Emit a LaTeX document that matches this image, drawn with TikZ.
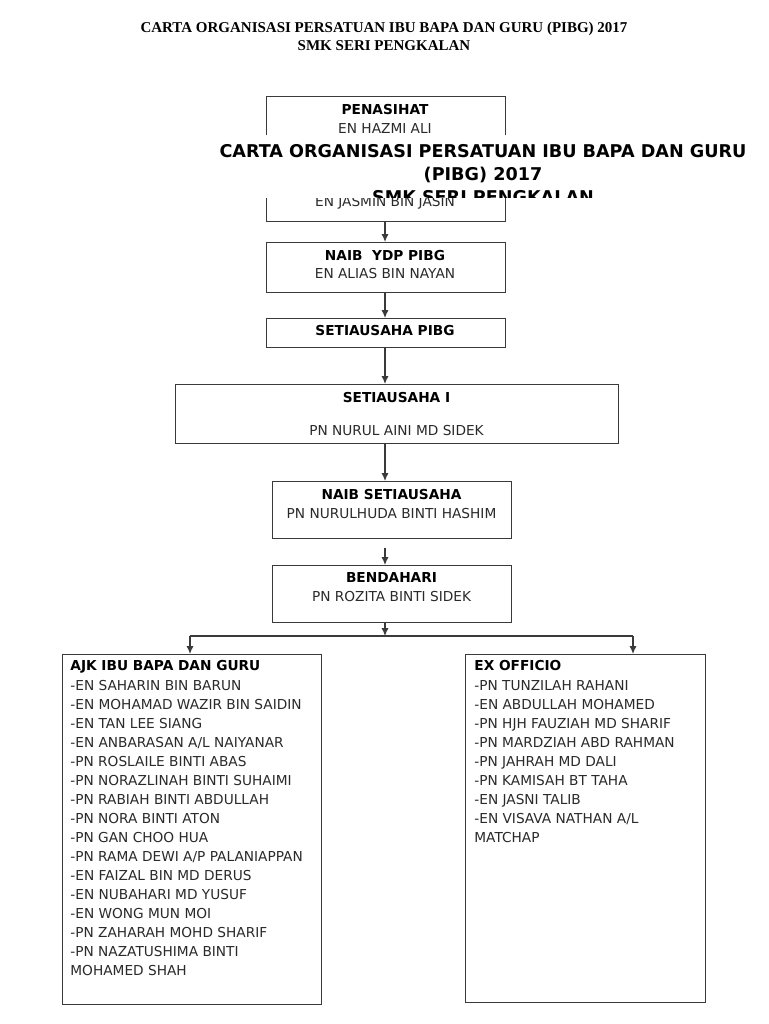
\documentclass[tikz,border=0pt]{standalone}
\usepackage{fontspec}
\setmainfont{DejaVu Sans}
\newfontfamily\titlefont{Liberation Serif}
\usetikzlibrary{arrows.meta}
\definecolor{linec}{HTML}{3A3A3A}
\definecolor{txt}{HTML}{2A2A2A}
\begin{document}
\begin{tikzpicture}[x=0.5pt,y=-0.5pt,
 box/.style={draw=linec,line width=0.65pt,inner sep=0pt,anchor=north west},
 arr/.style={draw=linec,line width=0.65pt,-{Latex[length=4pt,width=3.6pt]}},
 ln/.style={draw=linec,line width=0.65pt},
 hd/.style={font=\fontsize{6.85}{8}\selectfont\bfseries, text=black, inner sep=0pt, anchor=base},
 nm/.style={font=\fontsize{6.85}{8}\selectfont, text=txt, inner sep=0pt, anchor=base},
 hdl/.style={hd, anchor=base west},
 nml/.style={nm, anchor=base west},
 ttl/.style={font=\titlefont\fontsize{7.5}{8}\selectfont\bfseries, text=black, inner sep=0pt, anchor=base},
 ovl/.style={font=\fontsize{8.8}{10}\selectfont\bfseries, text=black, inner sep=0pt, anchor=base},
 ]
\useasboundingbox[fill=white] (0,0) rectangle (768,1024);

% top title
\node[ttl] (t1) at (384,32) {CARTA ORGANISASI PERSATUAN IBU BAPA DAN GURU (PIBG) 2017};
\node[ttl] (t2) at (384,50) {SMK SERI PENGKALAN};

% boxes
\node[box, minimum width=119.5pt, minimum height=62.5pt] (pen) at (266,96) {};
\node[box, minimum width=119.5pt, minimum height=25pt] (nyd) at (266,242) {};
\node[box, minimum width=119.5pt, minimum height=14.5pt] (sua) at (266,318) {};
\node[box, minimum width=221.5pt, minimum height=29.5pt] (s1) at (175,384) {};
\node[box, minimum width=119.5pt, minimum height=28.5pt] (ns) at (272,481) {};
\node[box, minimum width=119.5pt, minimum height=28.5pt] (ben) at (272,565) {};
\node[box, minimum width=129.5pt, minimum height=175pt] (ajk) at (62,654) {};
\node[box, minimum width=120pt, minimum height=174pt] (exo) at (465,654) {};

% box texts
\node[hd] (pen1) at (385,114) {PENASIHAT};
\node[nm] (pen2) at (385,133) {EN HAZMI ALI};
\node[nm] (pen3) at (385,206) {EN JASMIN BIN JASIN};
\node[hd] (nyd1) at (385,260) {NAIB\ \ YDP PIBG};
\node[nm] (nyd2) at (385,278) {EN ALIAS BIN NAYAN};
\node[hd] (sua1) at (385,335) {SETIAUSAHA PIBG};
\node[hd] (s11) at (396.5,402) {SETIAUSAHA I};
\node[nm] (s12) at (396.5,435) {PN NURUL AINI MD SIDEK};
\node[hd] (ns1) at (391.5,499) {NAIB SETIAUSAHA};
\node[nm] (ns2) at (391.5,518) {PN NURULHUDA BINTI HASHIM};
\node[hd] (ben1) at (391.5,582) {BENDAHARI};
\node[nm] (ben2) at (391.5,601) {PN ROZITA BINTI SIDEK};

% AJK list
\node[hdl] (ajk0) at (70,670) {AJK IBU BAPA DAN GURU};
\foreach \t [count=\i] in {-EN SAHARIN BIN BARUN,-EN MOHAMAD WAZIR BIN SAIDIN,-EN TAN LEE SIANG,-EN ANBARASAN A/L NAIYANAR,-PN ROSLAILE BINTI ABAS,-PN NORAZLINAH BINTI SUHAIMI,-PN RABIAH BINTI ABDULLAH,-PN NORA BINTI ATON,-PN GAN CHOO HUA,-PN RAMA DEWI A/P PALANIAPPAN,-EN FAIZAL BIN MD DERUS,-EN NUBAHARI MD YUSUF,-EN WONG MUN MOI,-PN ZAHARAH MOHD SHARIF,-PN NAZATUSHIMA BINTI,MOHAMED SHAH}
  \node[nml] (ajk\i) at (70,{690+19.05*(\i-1)}) {\t};

% EX OFFICIO list
\node[hdl] (exo0) at (474,670) {EX OFFICIO};
\foreach \t [count=\i] in {-PN TUNZILAH RAHANI,-EN ABDULLAH MOHAMED,-PN HJH FAUZIAH MD SHARIF,-PN MARDZIAH ABD RAHMAN,-PN JAHRAH MD DALI,-PN KAMISAH BT TAHA,-EN JASNI TALIB,-EN VISAVA NATHAN A/L,MATCHAP}
  \node[nml] (exo\i) at (474,{690+19.05*(\i-1)}) {\t};

% connectors
\coordinate (hb) at (385,636);
\coordinate (hl) at (190,636);
\coordinate (hr) at (633,636);
\draw[arr] (pen.south -| hb) -- (nyd.north -| hb);
\draw[arr] (nyd.south -| hb) -- (sua.north -| hb);
\draw[arr] (sua.south -| hb) -- (s1.north -| hb);
\draw[arr] (s1.south -| hb) -- (ns.north -| hb);
\draw[arr] ([yshift=-4.5pt]ns.south -| hb) -- (ben.north -| hb);
\draw[arr] (ben.south -| hb) -- (hb);
\draw[ln] (hl) -- (hr);
\draw[arr] (hl) -- (ajk.north -| hl);
\draw[arr] (hr) -- (exo.north -| hr);

% overlapping title block
\fill[white] (216,135) rectangle (752,197.5);
\begin{scope}
\clip (150,135) rectangle (760,197.5);
\node[ovl] (o1) at (483,157) {CARTA ORGANISASI PERSATUAN IBU BAPA DAN GURU};
\node[ovl] (o2) at (483,180) {(PIBG) 2017};
\node[ovl] (o3) at (483,203.5) {SMK SERI PENGKALAN};
\end{scope}
\end{tikzpicture}
\end{document}
